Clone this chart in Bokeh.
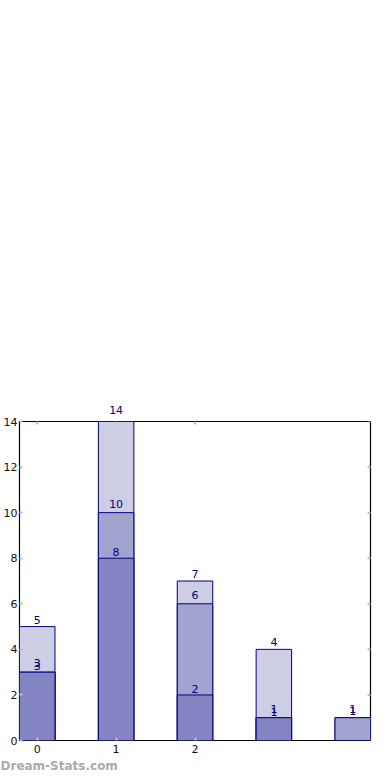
import math
from bokeh.plotting import figure
from bokeh.models import ColumnDataSource, LinearAxis, FixedTicker, Range1d, Title
from bokeh.embed import file_html
from bokeh.resources import INLINE
from bokeh.core.properties import value

# ---- data ----
cats = [0, 1, 2, 3, 4]
series_dark = [3, 8, 2, 1, 0]
series_mid = [3, 10, 6, 1, 1]
series_light = [5, 14, 7, 4, 1]
x_tick_labels = ["0", "1", "2"]
x_ticks = [0, 1, 2]
y_ticks = [0, 2, 4, 6, 8, 10, 12, 14]
watermark = "Dream-Stats.com"

colors = {"dark": "#8484c2", "mid": "#a3a3d0", "light": "#cdcde4"}
edge = "#000080"
font = "DejaVu Sans"
tick_color = "#bbbbbb"

x0, x1 = -0.225, 4.225
y0, y1 = 0, 14

p = figure(width=390, height=780, output_backend="svg", toolbar_location=None,
           x_range=Range1d(x0, x1), y_range=Range1d(y0, y1),
           x_axis_location=None, y_axis_location=None,
           min_border_left=0, min_border_right=20, min_border_top=421, min_border_bottom=40)
p.grid.visible = False
p.outline_line_color = "black"
p.outline_line_width = 1.2
p.background_fill_color = "white"

def make_axis(loc, ticks, standoff):
    ax = LinearAxis(ticker=FixedTicker(ticks=ticks))
    ax.axis_line_color = None
    ax.major_tick_in = 3
    ax.major_tick_out = 0
    ax.major_tick_line_color = tick_color
    ax.major_tick_line_width = 2
    ax.minor_tick_line_color = None
    ax.major_label_text_font = font
    ax.major_label_text_font_size = "11px"
    ax.major_label_text_color = "#111111"
    ax.major_label_standoff = standoff
    p.add_layout(ax, loc)
    return ax

make_axis("left", y_ticks, 2)
bx = make_axis("below", x_ticks, 4)
bx.major_label_overrides = {t: l for t, l in zip(x_ticks, x_tick_labels)}

# mirrored tick marks on the right and top edges (half of each dash is clipped by the frame)
p.scatter(x=[x1] * len(y_ticks), y=y_ticks, marker="dash", size=6,
          line_color=tick_color, line_width=2)
p.scatter(x=x_ticks, y=[y1] * len(x_ticks), marker="dash", size=6, angle=math.pi / 2,
          line_color=tick_color, line_width=2)

w = 0.45
specs = [("light", series_light, -3), ("mid", series_mid, -5), ("dark", series_dark, -2)]
for name, vals, off in specs:
    src = ColumnDataSource(dict(x=cats, top=vals))
    p.vbar(x="x", top="top", bottom=0, width=w, source=src,
           fill_color=colors[name], line_color=edge, line_width=1)

# value labels: those inside the frame as text glyphs, those reaching the top edge
# are drawn through a label-only axis above the frame (glyphs are clipped to the frame)
top_labels = {}
for name, vals, off in specs:
    xs, ys = [], []
    for c, v in zip(cats, vals):
        if v <= 0:
            continue
        if v >= y1:
            top_labels[c] = str(v)
        else:
            xs.append(c)
            ys.append(v)
    src = ColumnDataSource(dict(x=xs, y=ys, t=[str(v) for v in ys]))
    p.text(x="x", y="y", text="t", source=src, text_align="center", text_baseline="bottom",
           y_offset=off, text_font=value(font), text_font_size="11px", text_color=edge)

if top_labels:
    ta = LinearAxis(ticker=FixedTicker(ticks=list(top_labels.keys())))
    ta.major_label_overrides = top_labels
    ta.axis_line_color = None
    ta.major_tick_line_color = None
    ta.minor_tick_line_color = None
    ta.major_label_standoff = 2
    ta.major_label_text_font = font
    ta.major_label_text_font_size = "11px"
    ta.major_label_text_color = edge
    p.add_layout(ta, "above")

p.add_layout(Title(text=watermark, align="left", offset=-19, standoff=2,
                   text_font=font, text_font_size="12px", text_font_style="bold",
                   text_color="#aaaaaa"), "below")

open("out.html", "w").write(file_html(p, INLINE))
